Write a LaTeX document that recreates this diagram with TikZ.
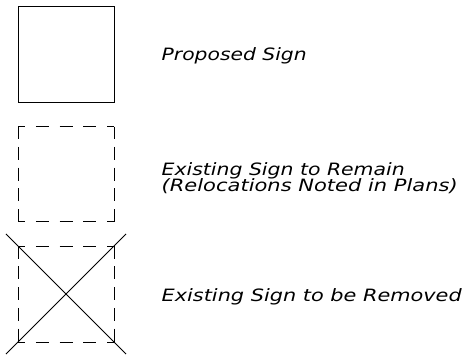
\documentclass[tikz,border=0pt]{standalone}
\usepackage{fontspec}
\usepackage{graphicx}
\newfontfamily\cadfont{DejaVu Sans}
\tikzset{
  sq/.style={rectangle, minimum width=96pt, minimum height=96pt, inner sep=0pt, outer sep=0pt},
  solidsq/.style={sq, draw, line width=1pt},
  hdash/.style={line width=1pt, dash pattern=on 13pt off 10.75pt, dash phase=6pt},
  vdash/.style={line width=1pt, dash pattern=on 13pt off 7.75pt, dash phase=0.5pt},
  cross/.style={line width=1pt, shorten <=-17pt, shorten >=-17pt},
  lbl/.style={anchor=base west, inner sep=0pt, outer sep=0pt, font=\cadfont\itshape\fontsize{17}{20}\selectfont}
}
\begin{document}
\begin{tikzpicture}[x=1pt,y=-1pt]
\useasboundingbox (0,0) rectangle (467,359);
% proposed sign
\node[solidsq] (s1) at (66,54) {};
% existing sign to remain
\node[sq, minimum height=95pt] (s2) at (66,174.2) {};
\draw[hdash] (s2.north west) -- (s2.north east);
\draw[hdash] (s2.south west) -- (s2.south east);
\draw[vdash] (s2.north west) -- (s2.south west);
\draw[vdash] (s2.north east) -- (s2.south east);
% existing sign to be removed
\node[sq] (s3) at (66,294) {};
\draw[hdash] (s3.north west) -- (s3.north east);
\draw[hdash] (s3.south west) -- (s3.south east);
\draw[vdash] (s3.north west) -- (s3.south west);
\draw[vdash] (s3.north east) -- (s3.south east);
\draw[cross] (s3.north west) -- (s3.south east);
\draw[cross] (s3.north east) -- (s3.south west);
% labels
\node[lbl] (t1) at (161.7,60.5) {\resizebox{145pt}{\height}{Proposed Sign}};
\node[lbl] (t2a) at (161.7,175) {\resizebox{243pt}{\height}{Existing Sign to Remain}};
\node[lbl] (t2b) at (161.7,191.7) {\resizebox{296pt}{\height}{(Relocations Noted in Plans)}};
\node[lbl] (t3) at (161.7,301.5) {\resizebox{300pt}{\height}{Existing Sign to be Removed}};
\end{tikzpicture}
\end{document}
